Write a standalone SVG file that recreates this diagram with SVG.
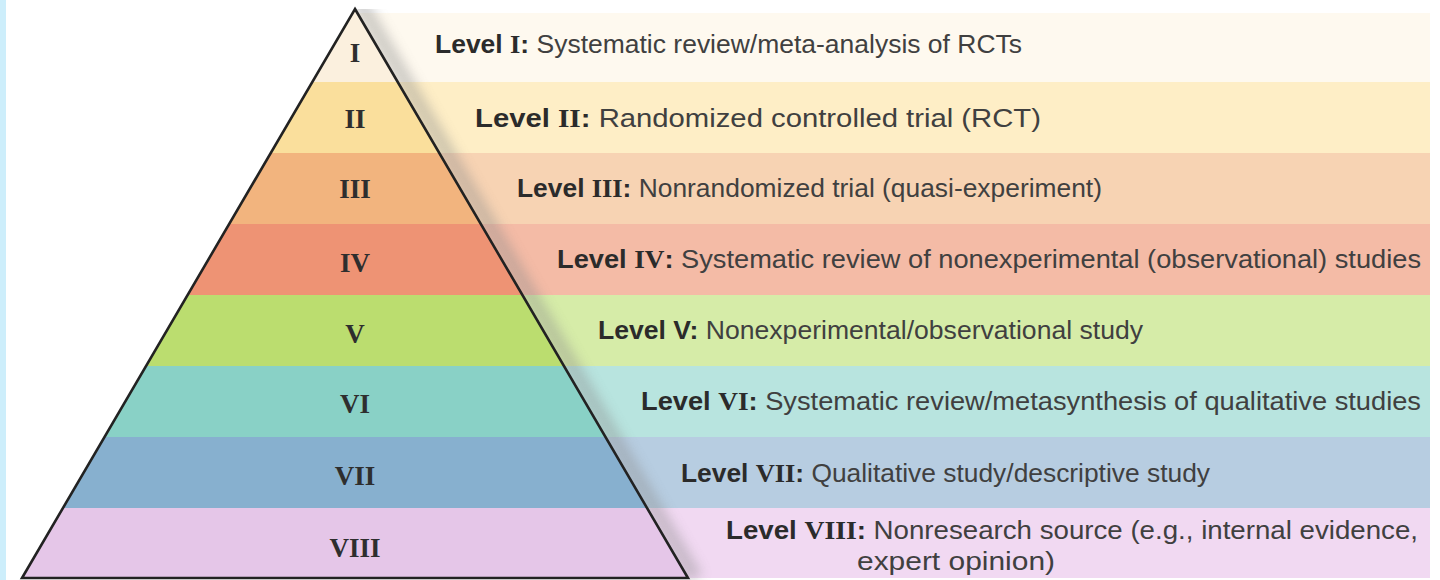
<svg xmlns="http://www.w3.org/2000/svg" width="1440" height="580" viewBox="0 0 1440 580">
  <style>
    .num { font-family: "Liberation Serif", "Times New Roman", serif; font-weight: bold; font-size: 27px; fill: #2e2e2e; text-anchor: middle; }
    .lbl { font-family: "Liberation Sans", Arial, sans-serif; font-size: 25px; fill: #404040; }
    .lv { font-weight: bold; fill: #2b2b2b; }
    .rn { font-family: "Liberation Serif", "Times New Roman", serif; font-weight: bold; fill: #2b2b2b; }
    .edge { fill: none; stroke: #222; stroke-width: 2.6; stroke-linejoin: miter; }
  </style>
  <defs>
    <clipPath id="tri">
      <polygon points="355,9 688,578 22,578"/>
    </clipPath>
    <clipPath id="outside">
      <polygon points="355,9 1440,9 1440,580 690,580"/>
    </clipPath>
    <filter id="soft" x="-50%" y="-10%" width="200%" height="120%">
      <feGaussianBlur stdDeviation="6"/>
    </filter>
  </defs>

  <rect x="0" y="0" width="1440" height="580" fill="#ffffff"/>
  <!-- left border strip -->
  <rect x="0" y="0" width="6" height="580" fill="#cdeefb"/>

  <!-- description bands to the right of the pyramid -->
  <g id="bands-right">
    <rect x="355" y="13" width="1075" height="69" fill="#fef9ef"/>
    <rect x="355" y="82" width="1075" height="71" fill="#feeec6"/>
    <rect x="355" y="153" width="1075" height="71" fill="#f7d3b3"/>
    <rect x="355" y="224" width="1075" height="71" fill="#f4bba6"/>
    <rect x="355" y="295" width="1075" height="71" fill="#d6eca8"/>
    <rect x="355" y="366" width="1075" height="71" fill="#b8e4df"/>
    <rect x="355" y="437" width="1075" height="71" fill="#b7cde1"/>
    <rect x="355" y="508" width="1075" height="70" fill="#f1d9f2"/>
  </g>

  <!-- soft shading along the right side of the pyramid -->
  <g clip-path="url(#outside)">
    <line x1="358" y1="0" x2="695" y2="578" stroke="#8a8a8a" stroke-width="16" opacity="0.4" filter="url(#soft)"/>
  </g>

  <!-- pyramid tiers -->
  <g id="pyramid" clip-path="url(#tri)">
    <rect x="0" y="0" width="720" height="82" fill="#fbf0de"/>
    <rect x="0" y="82" width="720" height="71" fill="#fadf9c"/>
    <rect x="0" y="153" width="720" height="71" fill="#f2b47e"/>
    <rect x="0" y="224" width="720" height="71" fill="#ee9374"/>
    <rect x="0" y="295" width="720" height="71" fill="#bbdd6f"/>
    <rect x="0" y="366" width="720" height="71" fill="#89d1c6"/>
    <rect x="0" y="437" width="720" height="71" fill="#87b0cf"/>
    <rect x="0" y="508" width="720" height="72" fill="#e5c6e8"/>
  </g>
  <polygon class="edge" points="355,9 688,578 22,578"/>

  <g id="level-1">
    <text class="num" x="355" y="62">I</text>
    <text class="lbl" x="435" y="53" textLength="587" lengthAdjust="spacingAndGlyphs"><tspan class="lv">Level </tspan><tspan class="rn">I</tspan><tspan class="lv">:</tspan> Systematic review/meta-analysis of RCTs</text>
  </g>
  <g id="level-2">
    <text class="num" x="355" y="128">II</text>
    <text class="lbl" x="475" y="127" textLength="566" lengthAdjust="spacingAndGlyphs"><tspan class="lv">Level </tspan><tspan class="rn">II</tspan><tspan class="lv">:</tspan> Randomized controlled trial (RCT)</text>
  </g>
  <g id="level-3">
    <text class="num" x="355" y="198">III</text>
    <text class="lbl" x="517" y="197" textLength="585" lengthAdjust="spacingAndGlyphs"><tspan class="lv">Level </tspan><tspan class="rn">III</tspan><tspan class="lv">:</tspan> Nonrandomized trial (quasi-experiment)</text>
  </g>
  <g id="level-4">
    <text class="num" x="355" y="272">IV</text>
    <text class="lbl" x="557" y="268" textLength="864" lengthAdjust="spacingAndGlyphs"><tspan class="lv">Level </tspan><tspan class="rn">IV</tspan><tspan class="lv">:</tspan> Systematic review of nonexperimental (observational) studies</text>
  </g>
  <g id="level-5">
    <text class="num" x="355" y="343">V</text>
    <text class="lbl" x="598" y="339" textLength="545" lengthAdjust="spacingAndGlyphs"><tspan class="lv">Level V:</tspan> Nonexperimental/observational study</text>
  </g>
  <g id="level-6">
    <text class="num" x="355" y="413">VI</text>
    <text class="lbl" x="641" y="410" textLength="780" lengthAdjust="spacingAndGlyphs"><tspan class="lv">Level </tspan><tspan class="rn">VI</tspan><tspan class="lv">:</tspan> Systematic review/metasynthesis of qualitative studies</text>
  </g>
  <g id="level-7">
    <text class="num" x="355" y="485">VII</text>
    <text class="lbl" x="681" y="482" textLength="529" lengthAdjust="spacingAndGlyphs"><tspan class="lv">Level </tspan><tspan class="rn">VII</tspan><tspan class="lv">:</tspan> Qualitative study/descriptive study</text>
  </g>
  <g id="level-8">
    <text class="num" x="355" y="557">VIII</text>
    <text class="lbl" x="726" y="539" textLength="692" lengthAdjust="spacingAndGlyphs"><tspan class="lv">Level </tspan><tspan class="rn">VIII</tspan><tspan class="lv">:</tspan> Nonresearch source (e.g., internal evidence,</text>
    <text class="lbl" x="857" y="570" textLength="198" lengthAdjust="spacingAndGlyphs">expert opinion)</text>
  </g>
</svg>
